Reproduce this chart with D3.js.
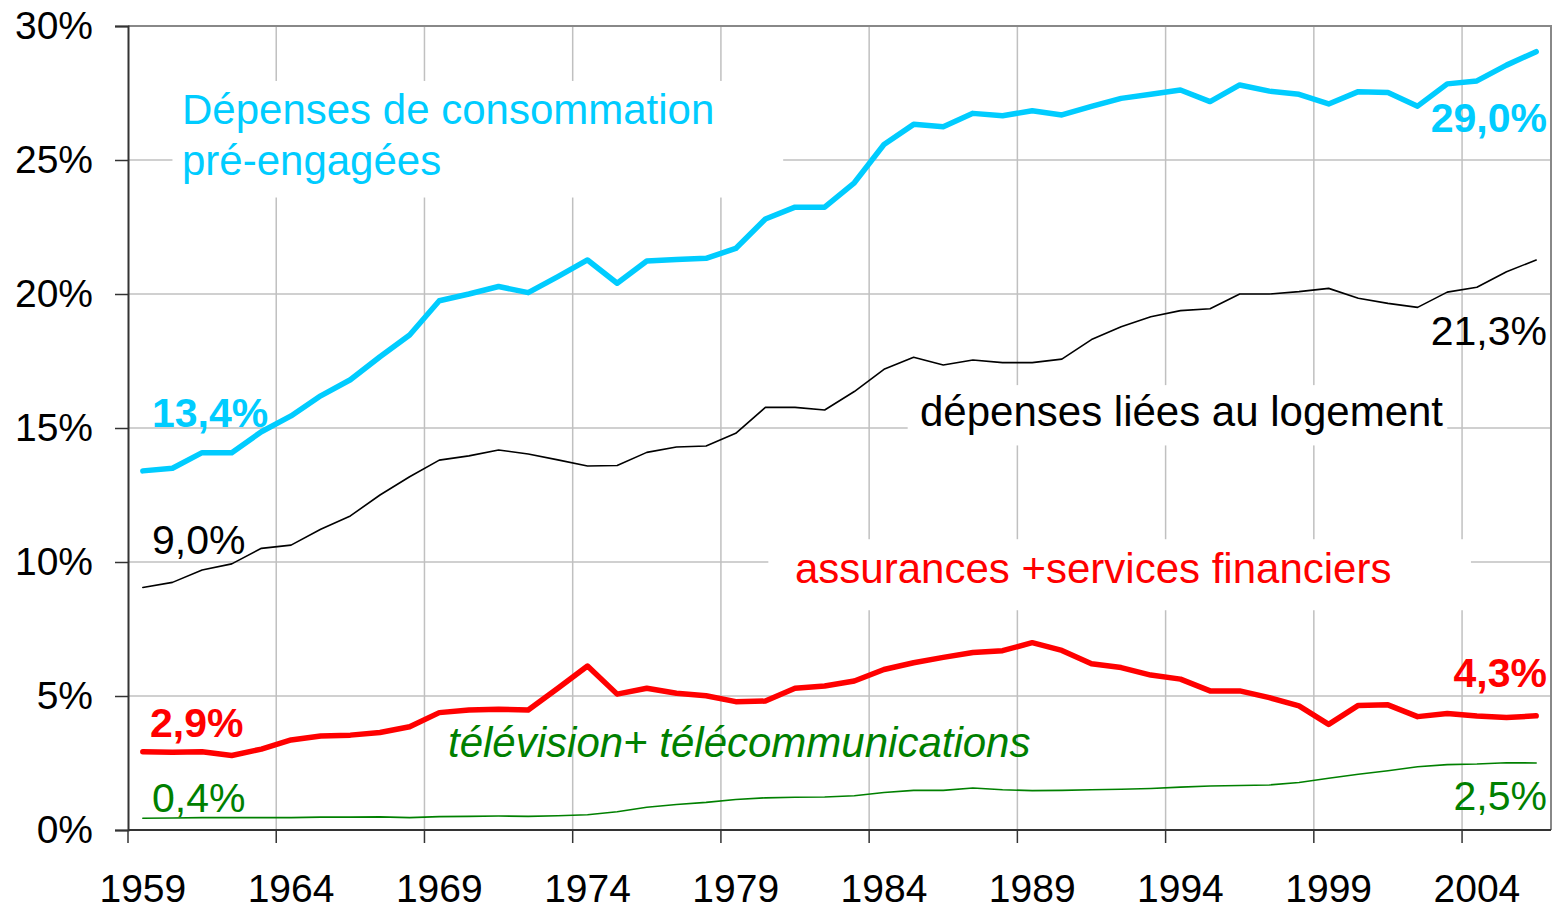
<!DOCTYPE html>
<html>
<head>
<meta charset="utf-8">
<script src="https://cdn.jsdelivr.net/npm/d3@7"></script>
<style>
  body { margin: 0; background: #fff; }
  svg text { font-family: "Liberation Sans", Arial, sans-serif; }
</style>
</head>
<body>
<svg id="chart" width="1557" height="909"></svg>
<script>
// years 1959..2006, one category each
const years = d3.range(1959, 2007);
const labelYears = [1959, 1964, 1969, 1974, 1979, 1984, 1989, 1994, 1999, 2004];
const yTicks = [0, 5, 10, 15, 20, 25, 30];

// share of spending, %
const preEngaged = [13.4, 13.5, 14.08, 14.08, 14.86, 15.45, 16.2, 16.8, 17.66, 18.47,
  19.75, 20.0, 20.28, 20.05, 20.65, 21.27, 20.4, 21.23, 21.29, 21.33,
  21.7, 22.8, 23.24, 23.24, 24.15, 25.58, 26.33, 26.24, 26.74, 26.65,
  26.84, 26.68, 27.0, 27.3, 27.45, 27.61, 27.18, 27.8, 27.57, 27.45,
  27.09, 27.55, 27.52, 27.01, 27.84, 27.95, 28.54, 29.04];
const housing = [9.05, 9.24, 9.7, 9.93, 10.51, 10.63, 11.22, 11.72, 12.5, 13.18,
  13.8, 13.96, 14.18, 14.03, 13.81, 13.58, 13.6, 14.09, 14.29, 14.33,
  14.8, 15.77, 15.77, 15.67, 16.36, 17.19, 17.64, 17.35, 17.54, 17.44,
  17.44, 17.57, 18.3, 18.78, 19.15, 19.38, 19.45, 20.0, 20.0, 20.09,
  20.21, 19.84, 19.65, 19.5, 20.07, 20.25, 20.83, 21.27];
const insurance = [2.92, 2.9, 2.92, 2.78, 3.02, 3.36, 3.51, 3.54, 3.64, 3.85,
  4.38, 4.48, 4.51, 4.48, 5.29, 6.12, 5.07, 5.29, 5.1, 5.01,
  4.79, 4.81, 5.29, 5.37, 5.56, 5.99, 6.24, 6.44, 6.62, 6.69,
  6.99, 6.7, 6.2, 6.06, 5.78, 5.63, 5.19, 5.19, 4.94, 4.63,
  3.94, 4.65, 4.67, 4.23, 4.35, 4.25, 4.2, 4.26];
const telecom = [0.44, 0.45, 0.46, 0.46, 0.46, 0.46, 0.48, 0.48, 0.49, 0.46,
  0.5, 0.51, 0.52, 0.51, 0.53, 0.57, 0.68, 0.85, 0.95, 1.03,
  1.14, 1.2, 1.22, 1.23, 1.28, 1.4, 1.48, 1.48, 1.57, 1.5,
  1.47, 1.48, 1.5, 1.52, 1.55, 1.6, 1.64, 1.66, 1.68, 1.77,
  1.93, 2.08, 2.21, 2.36, 2.44, 2.46, 2.51, 2.5];

const series = [
  { name: 'telecom',   values: telecom,    color: '#008000', width: 1.6 },
  { name: 'housing',   values: housing,    color: '#000000', width: 1.6 },
  { name: 'insurance', values: insurance,  color: '#ff0000', width: 5.5 },
  { name: 'preEngaged', values: preEngaged, color: '#00ccff', width: 5.5 }
];

const svg = d3.select('#chart');
const margin = { left: 128, top: 26, right: 6, bottom: 79 };
const width = 1557 - margin.left - margin.right;
const height = 909 - margin.top - margin.bottom;

const g = svg.append('g')
  .attr('transform', 'translate(' + margin.left + ',' + margin.top + ')');

const xScale = d3.scaleBand().domain(years).range([0, width]).padding(0);
const yScale = d3.scaleLinear().domain([0, 30]).range([height, 0]);
const xMid = y => xScale(y) + xScale.bandwidth() / 2;

// grid
g.append('g').selectAll('line.h')
  .data(yTicks.filter(d => d > 0 && d < 30))
  .enter().append('line')
  .attr('x1', 0).attr('x2', width)
  .attr('y1', d => yScale(d)).attr('y2', d => yScale(d))
  .attr('stroke', '#c0c0c0').attr('stroke-width', 1.5);

g.append('g').selectAll('line.v')
  .data(labelYears.slice(1))
  .enter().append('line')
  .attr('x1', d => xScale(d)).attr('x2', d => xScale(d))
  .attr('y1', 0).attr('y2', height)
  .attr('stroke', '#c0c0c0').attr('stroke-width', 1.5);

// white boxes behind the series titles
const boxes = [
  { x0: 1960.0, x1: 1980.6, y0: 27.95, y1: 23.6 },
  { x0: 1984.8, x1: 2003.0, y0: 16.6, y1: 14.35 },
  { x0: 1980.1, x1: 2003.8, y0: 10.85, y1: 8.2 }
];
const xLin = d3.scaleLinear().domain([1958.5, 2006.5]).range([0, width]);
g.append('g').selectAll('rect')
  .data(boxes)
  .enter().append('rect')
  .attr('x', d => xLin(d.x0))
  .attr('y', d => yScale(d.y0))
  .attr('width', d => xLin(d.x1) - xLin(d.x0))
  .attr('height', d => yScale(d.y1) - yScale(d.y0))
  .attr('fill', '#fff');

// frame top/right
g.append('path')
  .attr('d', 'M0,0H' + width + 'V' + height)
  .attr('fill', 'none').attr('stroke', '#888').attr('stroke-width', 2);

// axes
const yAxis = d3.axisLeft(yScale)
  .tickValues(yTicks)
  .tickFormat(d => d + '%')
  .tickSize(13).tickPadding(22);
const gY = g.append('g').call(yAxis);
gY.select('.domain').attr('stroke', '#333').attr('stroke-width', 2);
gY.selectAll('.tick line').attr('stroke', '#333').attr('stroke-width', 1.5);
gY.selectAll('.tick text').attr('font-size', 39).attr('fill', '#000')
  .attr('font-family', '"Liberation Sans", Arial, sans-serif');

const gX = g.append('g').attr('transform', 'translate(0,' + height + ')');
gX.append('line').attr('x1', 0).attr('x2', width)
  .attr('stroke', '#333').attr('stroke-width', 2);
gX.selectAll('line.tick')
  .data(labelYears)
  .enter().append('line')
  .attr('x1', d => xScale(d)).attr('x2', d => xScale(d))
  .attr('y1', 0).attr('y2', 13)
  .attr('stroke', '#333').attr('stroke-width', 1.5);
gX.selectAll('text')
  .data(labelYears)
  .enter().append('text')
  .attr('x', d => xMid(d))
  .attr('y', 72)
  .attr('text-anchor', 'middle')
  .attr('font-size', 39)
  .text(d => d);

// lines
const line = d3.line()
  .x((d, i) => xMid(years[i]))
  .y(d => yScale(d))
  .curve(d3.curveLinear);

g.append('g').selectAll('path')
  .data(series)
  .enter().append('path')
  .attr('d', d => line(d.values))
  .attr('fill', 'none')
  .attr('stroke', d => d.color)
  .attr('stroke-width', d => d.width)
  .attr('stroke-linejoin', 'round')
  .attr('stroke-linecap', 'round');

// titles and values
const texts = [
  { t: 'Dépenses de consommation', x: 182, y: 124, c: '#00ccff', s: 42 },
  { t: 'pré-engagées', x: 182, y: 175, c: '#00ccff', s: 42 },
  { t: 'dépenses liées au logement', x: 920, y: 426, c: '#000', s: 42 },
  { t: 'assurances +services financiers', x: 795, y: 583, c: '#ff0000', s: 42 },
  { t: 'télévision+ télécommunications', x: 448, y: 757, c: '#008000', s: 42, it: true },
  { t: '13,4%', x: 152, y: 427, c: '#00ccff', s: 41, b: true },
  { t: '9,0%', x: 152, y: 554, c: '#000', s: 41 },
  { t: '2,9%', x: 150, y: 737, c: '#ff0000', s: 41, b: true },
  { t: '0,4%', x: 152, y: 812, c: '#008000', s: 41 },
  { t: '29,0%', x: 1547, y: 132, c: '#00ccff', s: 41, b: true, end: true },
  { t: '21,3%', x: 1547, y: 345, c: '#000', s: 41, end: true },
  { t: '4,3%', x: 1547, y: 687, c: '#ff0000', s: 41, b: true, end: true },
  { t: '2,5%', x: 1547, y: 810, c: '#008000', s: 41, end: true }
];
svg.append('g').selectAll('text')
  .data(texts)
  .enter().append('text')
  .attr('x', d => d.x).attr('y', d => d.y)
  .attr('fill', d => d.c)
  .attr('font-size', d => d.s)
  .attr('font-weight', d => d.b ? 'bold' : 'normal')
  .attr('font-style', d => d.it ? 'italic' : 'normal')
  .attr('text-anchor', d => d.end ? 'end' : 'start')
  .text(d => d.t);
</script>
</body>
</html>
